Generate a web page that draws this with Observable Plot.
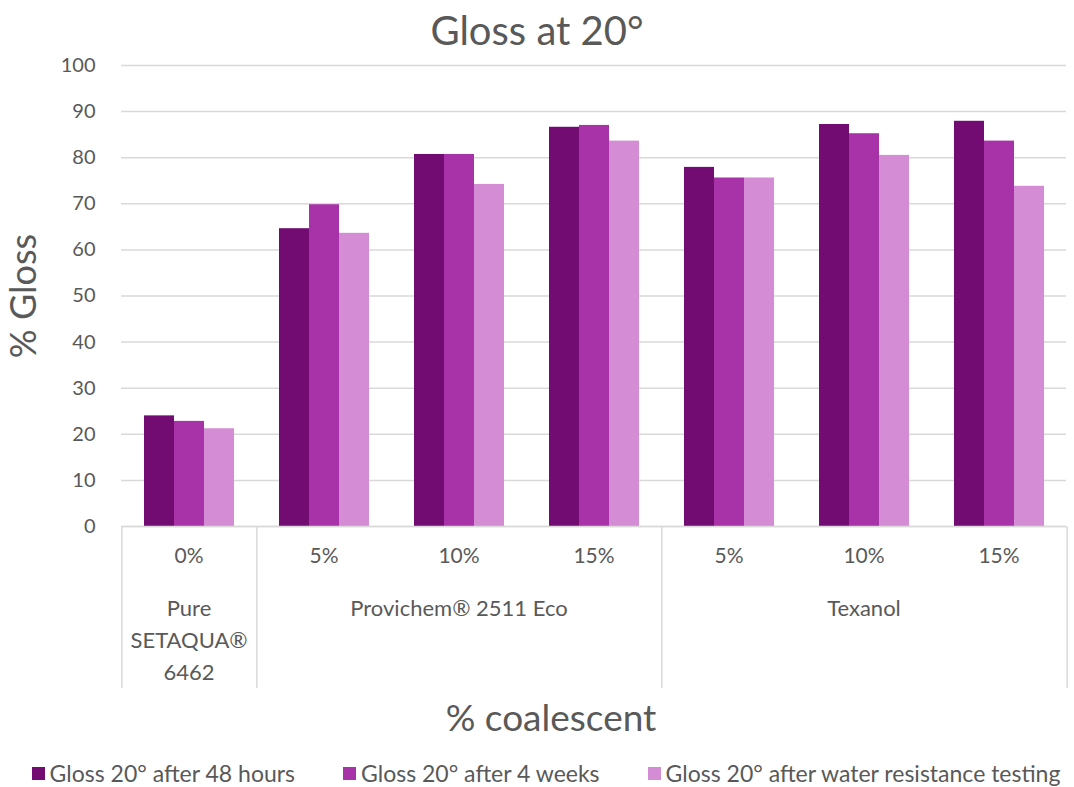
<!DOCTYPE html>
<html>
<head>
<meta charset="utf-8">
<script src="https://cdn.jsdelivr.net/npm/d3@7"></script>
<script src="https://cdn.jsdelivr.net/npm/@observablehq/plot@0.6"></script>
<style>
  html, body { margin: 0; padding: 0; background: #fff; }
  body { width: 1074px; font-family: Lato, "Open Sans", sans-serif; color: #595959; }
  #title { box-sizing: border-box; height: 48px; padding-top: 9px; font-size: 40px; line-height: 42px; text-align: center; }
  #xlabel { box-sizing: border-box; height: 40px; padding-left: 28px; font-size: 37px; line-height: 34px; text-align: center; }
  #legend { box-sizing: border-box; height: 47px; padding-top: 19px; padding-left: 18px; display: flex; justify-content: center; font-size: 23px; line-height: 24px; white-space: nowrap; }
  .item { display: flex; align-items: center; margin: 0 24px; flex: none; white-space: nowrap; }
  .sw { width: 13px; height: 13px; margin-right: 5px; flex: none; }
</style>
</head>
<body>
<div id="title">Gloss at 20°</div>
<div id="chart"></div>
<div id="xlabel">% coalescent</div>
<div id="legend"></div>
<script>
// ---- data ----
const catKeys = ["pure-0", "prov-5", "prov-10", "prov-15", "tex-5", "tex-10", "tex-15"];
const tickLabels = ["0%", "5%", "10%", "15%", "5%", "10%", "15%"];
const groupLabels = ["Pure\nSETAQUA®\n6462", "Provichem® 2511 Eco", "Texanol"];
const groupCenters = ["pure-0", "prov-10", "tex-10"];
const groupStarts = ["pure-0", "prov-5", "tex-5"];
const groupEnd = ["tex-15"];
const series = ["Gloss 20° after 48 hours", "Gloss 20° after 4 weeks", "Gloss 20° after water resistance testing"];
const gloss48h = [24.0, 64.6, 80.7, 86.6, 77.9, 87.2, 87.9];
const gloss4w = [22.8, 69.8, 80.7, 87.0, 75.6, 85.2, 83.6];
const glossWater = [21.2, 63.6, 74.2, 83.6, 75.6, 80.5, 73.8];
const colors = ["#720C72", "#A832A8", "#D48DD4"];
const yTicks = [0, 10, 20, 30, 40, 50, 60, 70, 80, 90, 100];

// ---- table ----
const seriesValues = [gloss48h, gloss4w, glossWater];
const table = [];
catKeys.forEach((k, i) => series.forEach((s, j) => table.push({cat: k, series: s, value: seriesValues[j][i]})));
const tickFormat = new Map(catKeys.map((k, i) => [k, tickLabels[i]]));
const groups = groupLabels.map((g, i) => ({cat: groupCenters[i], label: g}));

// ---- layout ----
const width = 1074, height = 652;
const marginTop = 17, marginBottom = 174, marginLeft = 120, marginRight = 7;
const plotH = height - marginTop - marginBottom;
const facetW = (width - marginLeft - marginRight) / catKeys.length;
const sepBelow = 162;
const textColor = "#595959", gridColor = "#d9d9d9";

const chart = Plot.plot({
  width, height, marginTop, marginBottom, marginLeft, marginRight,
  style: {fontFamily: "Lato, 'Open Sans', sans-serif", background: "#fff"},
  fx: {domain: catKeys, padding: 0, axis: null},
  x: {domain: series, paddingInner: 0, paddingOuter: 0.75, axis: null},
  y: {domain: [0, 100], axis: null},
  color: {domain: series, range: colors},
  marks: [
    Plot.gridY(yTicks, {stroke: gridColor, strokeOpacity: 1, strokeWidth: 1.5}),
    Plot.barY(table, {fx: "cat", x: "series", y: "value", fill: "series"}),
    Plot.ruleY([0], {stroke: gridColor, strokeWidth: 1.5}),
    Plot.ruleX(groupStarts, {fx: d => d, x: () => series[1], dx: -facetW / 2, insetTop: plotH, insetBottom: -sepBelow, stroke: gridColor, strokeWidth: 1.5}),
    Plot.ruleX(groupEnd, {fx: d => d, x: () => series[1], dx: facetW / 2, insetTop: plotH, insetBottom: -sepBelow, stroke: gridColor, strokeWidth: 1.5}),
    Plot.text(groups, {fx: "cat", text: "label", frameAnchor: "bottom", dy: 67, lineAnchor: "top", lineHeight: 1.45, fontSize: 22, fill: textColor}),
    Plot.axisFx({anchor: "bottom", tickFormat: k => tickFormat.get(k), tickSize: 0, tickPadding: 22, fontSize: 21, color: textColor, label: null}),
    Plot.axisY({ticks: yTicks, tickSize: 0, tickPadding: 26, fontSize: 20, color: textColor, label: null}),
    Plot.axisY({ticks: [], label: "% Gloss", labelAnchor: "center", labelArrow: "none", labelOffset: 111, fontSize: 36, color: textColor})
  ]
});
document.getElementById("chart").appendChild(chart);

const legend = document.getElementById("legend");
series.forEach((s, i) => {
  const item = document.createElement("div");
  item.className = "item";
  const sw = document.createElement("span");
  sw.className = "sw";
  sw.style.background = colors[i];
  const t = document.createElement("span");
  t.textContent = s;
  item.appendChild(sw);
  item.appendChild(t);
  legend.appendChild(item);
});
</script>
</body>
</html>
